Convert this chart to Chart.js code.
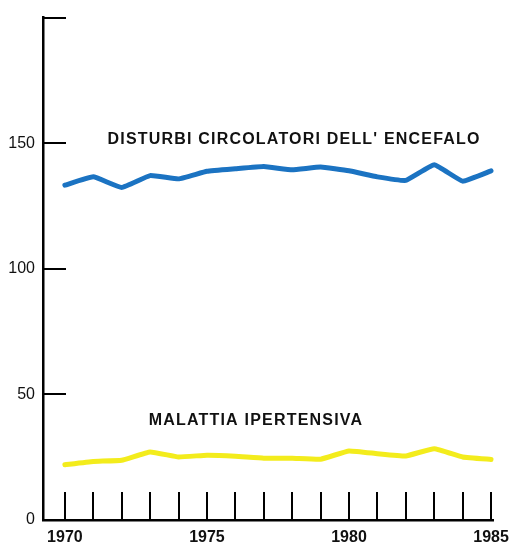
<!DOCTYPE html>
<html>
<head>
<meta charset="utf-8">
<script src="https://cdn.jsdelivr.net/npm/chart.js@4/dist/chart.umd.min.js"></script>
<style>
  html, body { margin: 0; padding: 0; background: #fff; }
  canvas { display: block; }
</style>
</head>
<body>
<canvas id="myChart" width="517" height="546"></canvas>
<script>
// years on the x axis
const years = [1970, 1971, 1972, 1973, 1974, 1975, 1976, 1977, 1978, 1979, 1980, 1981, 1982, 1983, 1984, 1985];
const yearLabels = [1970, 1975, 1980, 1985];
const valueTicks = [0, 50, 100, 150, 200];
const valueLabels = [0, 50, 100, 150];

// series
const circolatori = [133.3, 136.6, 132.4, 137.1, 135.8, 138.8, 139.8, 140.7, 139.4, 140.5, 139.0, 136.6, 135.2, 141.4, 134.9, 139.0];
const ipertensiva = [22.0, 23.3, 23.8, 27.1, 25.1, 25.8, 25.4, 24.6, 24.6, 24.2, 27.5, 26.4, 25.5, 28.4, 25.1, 24.1];

// series names written on the chart, with anchor (year, value)
const seriesNames = ['DISTURBI CIRCOLATORI DELL\' ENCEFALO', 'MALATTIA IPERTENSIVA'];
const nameYears = [1971.5, 1972.95];
const nameValues = [149.6, 37.7];

// draws the inward tick marks and the series names
const decorations = {
    id: 'decorations',
    afterDatasetsDraw(chart) {
        const ctx = chart.ctx;
        const x = chart.scales.x;
        const y = chart.scales.y;
        ctx.save();
        ctx.strokeStyle = '#000';
        ctx.lineCap = 'butt';

        // vertical year ticks rising from the x axis
        ctx.lineWidth = 2;
        years.forEach(yr => {
            const px = Math.round(x.getPixelForValue(yr));
            ctx.beginPath();
            ctx.moveTo(px, y.bottom);
            ctx.lineTo(px, y.bottom - 28);
            ctx.stroke();
        });

        // horizontal value ticks pointing into the plot
        ctx.lineWidth = 2;
        valueTicks.filter(v => v > 0).forEach(v => {
            const py = Math.round(y.getPixelForValue(v));
            ctx.beginPath();
            ctx.moveTo(x.left, py);
            ctx.lineTo(x.left + 23, py);
            ctx.stroke();
        });

        // series names
        ctx.fillStyle = '#111';
        ctx.font = 'bold 16px "Liberation Sans", Arial, sans-serif';
        ctx.textAlign = 'left';
        ctx.textBaseline = 'alphabetic';
        ctx.letterSpacing = '1.2px';
        seriesNames.forEach((name, i) => {
            ctx.fillText(name, x.getPixelForValue(nameYears[i]), y.getPixelForValue(nameValues[i]));
        });
        ctx.restore();
    }
};

const ctx = document.getElementById('myChart').getContext('2d');
const myChart = new Chart(ctx, {
    type: 'line',
    data: {
        labels: years,
        datasets: [
            {
                label: seriesNames[0],
                data: years.map((yr, i) => ({ x: yr, y: circolatori[i] })),
                borderColor: '#1b73c2',
                borderWidth: 5,
                pointRadius: 0,
                tension: 0.1,
                borderJoinStyle: 'round',
                borderCapStyle: 'round',
                fill: false
            },
            {
                label: seriesNames[1],
                data: years.map((yr, i) => ({ x: yr, y: ipertensiva[i] })),
                borderColor: '#f3ec1c',
                borderWidth: 5,
                pointRadius: 0,
                tension: 0.1,
                borderJoinStyle: 'round',
                borderCapStyle: 'round',
                fill: false
            }
        ]
    },
    options: {
        responsive: false,
        animation: false,
        layout: { padding: { top: 12, right: 22, left: 0, bottom: 0 } },
        plugins: {
            legend: { display: false },
            tooltip: { enabled: false }
        },
        scales: {
            x: {
                type: 'linear',
                min: 1969.23,
                max: 1985.1,
                afterBuildTicks: scale => { scale.ticks = yearLabels.map(v => ({ value: v })); },
                afterFit: scale => { scale.height = 26; },
                grid: { display: false, drawTicks: false },
                border: { display: true, color: '#000', width: 2.5 },
                ticks: {
                    color: '#111',
                    padding: 8,
                    maxRotation: 0,
                    font: { family: '"Liberation Sans", Arial, sans-serif', size: 16, weight: 'bold' },
                    callback: v => String(v)
                }
            },
            y: {
                min: 0,
                max: 200,
                afterBuildTicks: scale => { scale.ticks = valueLabels.map(v => ({ value: v })); },
                afterFit: scale => { scale.width = 43; },
                grid: { display: false, drawTicks: false },
                border: { display: true, color: '#000', width: 2.5 },
                ticks: {
                    color: '#111',
                    padding: 8,
                    font: { family: '"Liberation Sans", Arial, sans-serif', size: 16 },
                    callback: v => String(v)
                }
            }
        }
    },
    plugins: [decorations]
});
</script>
</body>
</html>
